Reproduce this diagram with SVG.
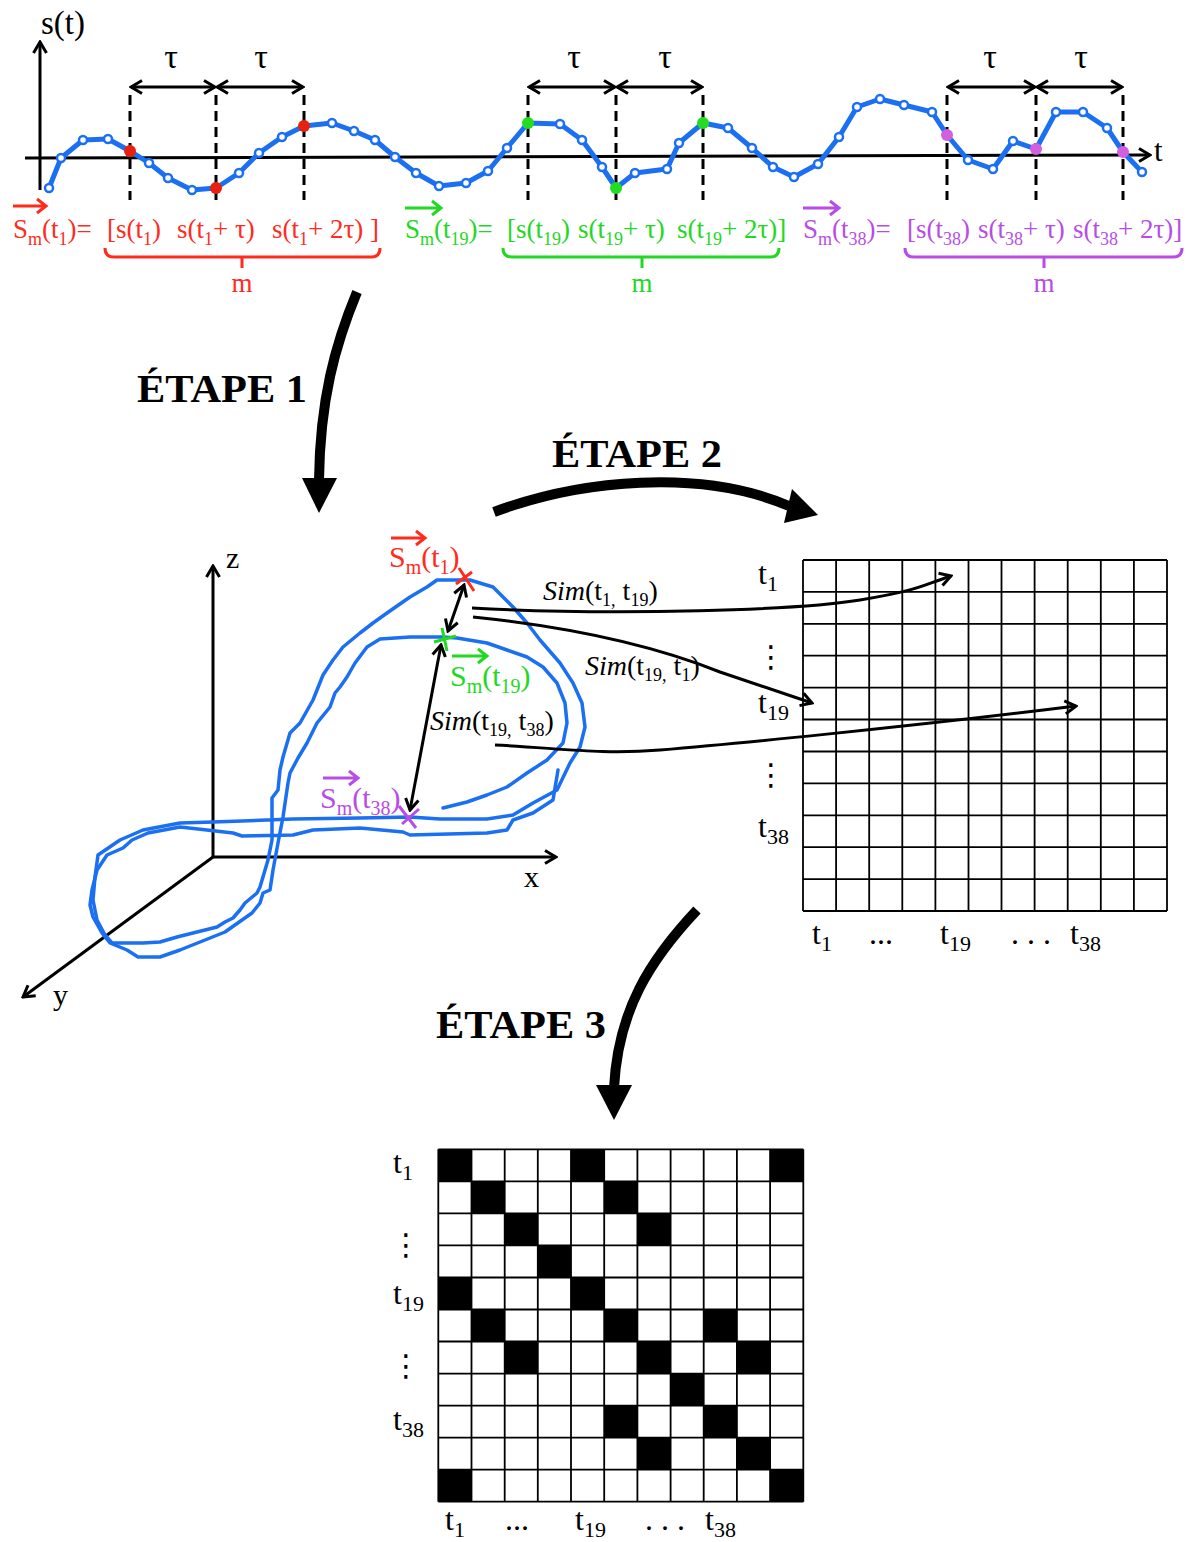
<svg xmlns="http://www.w3.org/2000/svg" width="1191" height="1542" viewBox="0 0 1191 1542">
<defs>
<style>
.f{font-family:"Liberation Serif","Times New Roman",serif;}
.lbl{font-size:27px;}
.sub{font-size:18px;}
.red{fill:#ff2b1c;}
.grn{fill:#22d822;}
.pur{fill:#b84ce6;}
.blk{fill:#000;}
.ax{stroke:#000;stroke-width:3;fill:none;}
.dash{stroke:#000;stroke-width:3;stroke-dasharray:10 6;fill:none;}
.sig{stroke:#1a6ff2;stroke-width:5;fill:none;stroke-linejoin:round;stroke-linecap:round;}
.pt{fill:#fff;stroke:#1a6ff2;stroke-width:2.5;}
.loop{stroke:#1a6ff2;stroke-width:3.5;fill:none;stroke-linejoin:round;stroke-linecap:round;}
.grid{stroke:#000;stroke-width:1.8;fill:none;}
.big{stroke:#000;stroke-width:10;fill:none;}
.etape{font-size:40px;font-weight:bold;}
.gl{font-size:32px;}
.gsub{font-size:22px;}
.sim{font-size:28px;}
.s3{font-size:30px;}
.s3sub{font-size:20px;}
.tau{font-size:34px;}
</style>
<marker id="ah" viewBox="0 0 16 16" refX="14" refY="8" markerWidth="16" markerHeight="16" markerUnits="userSpaceOnUse" orient="auto-start-reverse">
<path d="M3,1.5 L14,8 L3,14.5" fill="none" stroke="#000" stroke-width="3"/>
</marker>
</defs>
<rect width="1191" height="1542" fill="#fff"/>

<g id="signal-plot">
<line class="ax" x1="40" y1="190" x2="40" y2="42" marker-end="url(#ah)"/>
<line class="ax" x1="25" y1="158" x2="1150" y2="155" marker-end="url(#ah)"/>
<text class="f" x="41" y="34" font-size="33">s(t)</text>
<text class="f" x="1154" y="161" font-size="31">t</text>
<g id="dashes">
<line class="dash" x1="130" y1="95" x2="130" y2="200"/>
<line class="dash" x1="216" y1="95" x2="216" y2="200"/>
<line class="dash" x1="304" y1="95" x2="304" y2="200"/>
<line class="dash" x1="528" y1="95" x2="528" y2="200"/>
<line class="dash" x1="616" y1="95" x2="616" y2="200"/>
<line class="dash" x1="703" y1="95" x2="703" y2="200"/>
<line class="dash" x1="947" y1="95" x2="947" y2="200"/>
<line class="dash" x1="1036" y1="95" x2="1036" y2="200"/>
<line class="dash" x1="1123" y1="95" x2="1123" y2="200"/>
</g>
<g id="tau-arrows">
<line class="ax" x1="131" y1="87" x2="215" y2="87" marker-start="url(#ah)" marker-end="url(#ah)"/>
<line class="ax" x1="217" y1="87" x2="303" y2="87" marker-start="url(#ah)" marker-end="url(#ah)"/>
<line class="ax" x1="529" y1="87" x2="615" y2="87" marker-start="url(#ah)" marker-end="url(#ah)"/>
<line class="ax" x1="617" y1="87" x2="702" y2="87" marker-start="url(#ah)" marker-end="url(#ah)"/>
<line class="ax" x1="948" y1="87" x2="1035" y2="87" marker-start="url(#ah)" marker-end="url(#ah)"/>
<line class="ax" x1="1037" y1="87" x2="1122" y2="87" marker-start="url(#ah)" marker-end="url(#ah)"/>
<text class="f tau" text-anchor="middle" x="171" y="68">τ</text>
<text class="f tau" text-anchor="middle" x="261" y="68">τ</text>
<text class="f tau" text-anchor="middle" x="574" y="68">τ</text>
<text class="f tau" text-anchor="middle" x="665" y="68">τ</text>
<text class="f tau" text-anchor="middle" x="990" y="68">τ</text>
<text class="f tau" text-anchor="middle" x="1081" y="68">τ</text>
</g>
<polyline class="sig" points="49,188 61,158 83,140 108,139 130,151 149,163 168,178 192,190 216,188 239,173 259,153 282,137 304,126 332,123 354,131 375,140 395,157 416,173 439,186 466,183 488,171 507,148 528,123 560,124 582,140 602,167 616,188 635,173 667,169 679,143 703,123 728,128 752,148 773,167 794,177 818,164 839,137 857,107 880,99 904,105 932,112 947,135 968,160 993,169 1013,141 1036,149 1056,112 1083,112 1107,128 1123,152 1142,172"/>
<g id="samples">
<circle class="pt" cx="49" cy="188" r="4"/><circle class="pt" cx="61" cy="158" r="4"/><circle class="pt" cx="83" cy="140" r="4"/><circle class="pt" cx="108" cy="139" r="4"/>
<circle class="pt" cx="149" cy="163" r="4"/><circle class="pt" cx="168" cy="178" r="4"/><circle class="pt" cx="192" cy="190" r="4"/>
<circle class="pt" cx="239" cy="173" r="4"/><circle class="pt" cx="259" cy="153" r="4"/><circle class="pt" cx="282" cy="137" r="4"/>
<circle class="pt" cx="332" cy="123" r="4"/><circle class="pt" cx="354" cy="131" r="4"/><circle class="pt" cx="375" cy="140" r="4"/><circle class="pt" cx="395" cy="157" r="4"/>
<circle class="pt" cx="416" cy="173" r="4"/><circle class="pt" cx="439" cy="186" r="4"/><circle class="pt" cx="466" cy="183" r="4"/><circle class="pt" cx="488" cy="171" r="4"/><circle class="pt" cx="507" cy="148" r="4"/>
<circle class="pt" cx="560" cy="124" r="4"/><circle class="pt" cx="582" cy="140" r="4"/><circle class="pt" cx="602" cy="167" r="4"/>
<circle class="pt" cx="635" cy="173" r="4"/><circle class="pt" cx="667" cy="169" r="4"/><circle class="pt" cx="679" cy="143" r="4"/>
<circle class="pt" cx="728" cy="128" r="4"/><circle class="pt" cx="752" cy="148" r="4"/><circle class="pt" cx="773" cy="167" r="4"/><circle class="pt" cx="794" cy="177" r="4"/>
<circle class="pt" cx="818" cy="164" r="4"/><circle class="pt" cx="839" cy="137" r="4"/><circle class="pt" cx="857" cy="107" r="4"/><circle class="pt" cx="880" cy="99" r="4"/><circle class="pt" cx="904" cy="105" r="4"/><circle class="pt" cx="932" cy="112" r="4"/>
<circle class="pt" cx="968" cy="160" r="4"/><circle class="pt" cx="993" cy="169" r="4"/><circle class="pt" cx="1013" cy="141" r="4"/>
<circle class="pt" cx="1056" cy="112" r="4"/><circle class="pt" cx="1083" cy="112" r="4"/><circle class="pt" cx="1107" cy="128" r="4"/><circle class="pt" cx="1142" cy="172" r="4"/>
</g>
<g id="key-points">
<circle cx="130" cy="151" r="6" fill="#e8200f"/><circle cx="216" cy="188" r="6" fill="#e8200f"/><circle cx="304" cy="126" r="6" fill="#e8200f"/>
<circle cx="528" cy="123" r="6" fill="#22dd22"/><circle cx="616" cy="188" r="6" fill="#22dd22"/><circle cx="703" cy="123" r="6" fill="#22dd22"/>
<circle cx="947" cy="135" r="6" fill="#d25fe0"/><circle cx="1036" cy="149" r="6" fill="#d25fe0"/><circle cx="1123" cy="152" r="6" fill="#d25fe0"/>
</g>
</g>

<g id="vector-t1">
<path d="M13,206 H46 M37,199 L46,206 L37,213" stroke="#ff2b1c" stroke-width="3" fill="none"/>
<text class="f lbl red" x="13" y="238">S<tspan class="sub" dy="7">m</tspan><tspan dy="-7">(t</tspan><tspan class="sub" dy="7">1</tspan><tspan dy="-7">)=</tspan></text>
<text class="f lbl red" x="107" y="238">[s(t<tspan class="sub" dy="7">1</tspan><tspan dy="-7">)</tspan></text>
<text class="f lbl red" x="177" y="238">s(t<tspan class="sub" dy="7">1</tspan><tspan dy="-7">+ τ)</tspan></text>
<text class="f lbl red" x="272" y="238">s(t<tspan class="sub" dy="7">1</tspan><tspan dy="-7">+ 2τ) ]</tspan></text>
<path d="M105,248 Q105,257 114,257 H242 V268 M242,257 H371 Q380,257 380,248" stroke="#ff2b1c" stroke-width="3" fill="none"/>
<text class="f lbl red" x="242" y="292" text-anchor="middle">m</text>
</g>

<g id="vector-t19">
<path d="M405,208 H441 M432,201 L441,208 L432,215" stroke="#22d822" stroke-width="3" fill="none"/>
<text class="f lbl grn" x="405" y="238">S<tspan class="sub" dy="7">m</tspan><tspan dy="-7">(t</tspan><tspan class="sub" dy="7">19</tspan><tspan dy="-7">)=</tspan></text>
<text class="f lbl grn" x="507" y="238">[s(t<tspan class="sub" dy="7">19</tspan><tspan dy="-7">)</tspan></text>
<text class="f lbl grn" x="578" y="238">s(t<tspan class="sub" dy="7">19</tspan><tspan dy="-7">+ τ)</tspan></text>
<text class="f lbl grn" x="677" y="238">s(t<tspan class="sub" dy="7">19</tspan><tspan dy="-7">+ 2τ)]</tspan></text>
<path d="M503,248 Q503,257 512,257 H642 V268 M642,257 H770 Q779,257 779,248" stroke="#22d822" stroke-width="3" fill="none"/>
<text class="f lbl grn" x="642" y="292" text-anchor="middle">m</text>
</g>

<g id="vector-t38">
<path d="M803,208 H839 M830,201 L839,208 L830,215" stroke="#b84ce6" stroke-width="3" fill="none"/>
<text class="f lbl pur" x="803" y="238">S<tspan class="sub" dy="7">m</tspan><tspan dy="-7">(t</tspan><tspan class="sub" dy="7">38</tspan><tspan dy="-7">)=</tspan></text>
<text class="f lbl pur" x="907" y="238">[s(t<tspan class="sub" dy="7">38</tspan><tspan dy="-7">)</tspan></text>
<text class="f lbl pur" x="978" y="238">s(t<tspan class="sub" dy="7">38</tspan><tspan dy="-7">+ τ)</tspan></text>
<text class="f lbl pur" x="1073" y="238">s(t<tspan class="sub" dy="7">38</tspan><tspan dy="-7">+ 2τ)]</tspan></text>
<path d="M905,248 Q905,257 914,257 H1044 V268 M1044,257 H1173 Q1182,257 1182,248" stroke="#b84ce6" stroke-width="3" fill="none"/>
<text class="f lbl pur" x="1044" y="292" text-anchor="middle">m</text>
</g>

<g id="etape1">
<path class="big" d="M357,292 C335,345 320,400 319,480"/>
<polygon points="302,478 337,478 319,513" fill="#000"/>
<text class="f etape" x="137" y="402" textLength="170" lengthAdjust="spacingAndGlyphs">ÉTAPE 1</text>
</g>
<g id="etape2">
<path class="big" d="M494,512 C580,480 700,468 789,506"/>
<polygon points="818,515 792,489 784,523" fill="#000"/>
<text class="f etape" x="552" y="467" textLength="170" lengthAdjust="spacingAndGlyphs">ÉTAPE 2</text>
</g>
<g id="etape3">
<path class="big" d="M697,910 C650,960 618,1010 614,1088"/>
<polygon points="596,1085 632,1085 614,1120" fill="#000"/>
<text class="f etape" x="436" y="1038" textLength="170" lengthAdjust="spacingAndGlyphs">ÉTAPE 3</text>
</g>

<g id="phase-space">
<line class="ax" x1="213" y1="857" x2="213" y2="566" marker-end="url(#ah)" stroke-width="3.5"/>
<line class="ax" x1="213" y1="857" x2="556" y2="857" marker-end="url(#ah)" stroke-width="3.5"/>
<line class="ax" x1="213" y1="857" x2="23" y2="997" marker-end="url(#ah)" stroke-width="3.5"/>
<text class="f" font-size="30" x="226" y="568">z</text>
<text class="f" font-size="30" x="524" y="887">x</text>
<text class="f" font-size="30" x="53" y="1005">y</text>
<path class="loop" d="M558,770 L553,800 L533,813 L513,820 L507,830 L487,833 L410,835 L403,832 L360,828 L313,830 L293,835 L242,836 L233,833 L207,830 L180,827 L148,833 L132,840 L123,848 L107,855 L97,870 L92,890 L90,905 L93,917 L102,933 L110,943 L127,950 L138,957 L160,957 L180,950 L210,938 L225,932 L242,920 L252,913 L260,903 L263,893 L270,890 L273,870 L278,843 L283,817 L288,783 L290,773 L298,758 L307,743 L317,723 L330,707 L335,693 L340,687 L347,677 L355,663 L367,647 L380,639 L410,637 L443,637 L457,638 L487,643 L507,650 L527,657 L543,667 L557,683 L565,703 L567,723 L563,743 L547,760 L527,773 L507,787 L487,795 L467,802 L443,808"/>
<path class="loop" d="M112,943 L143,943 L160,942 L177,937 L205,930 L217,927 L225,922 L233,918 L240,910 L245,903 L257,893 L260,887 L268,860 L272,840 L272,798 L278,790 L280,770 L283,757 L290,733 L300,723 L313,700 L323,675 L333,660 L343,647 L360,633 L373,623 L387,613 L410,597 L427,587 L437,580 L470,580 L493,587 L513,607 L527,623 L540,640 L560,663 L573,683 L582,703 L585,727 L580,747 L570,763 L557,790 L533,803 L513,815 L487,819 L440,819 L410,817 L360,818 L293,819 L213,822 L180,823 L143,830 L120,840 L98,855 L95,877 L93,900 L97,920 L105,935 Z"/>
<g id="marks">
<path d="M459,568 L474,591 M456,584 L472,572" stroke="#ff2b1c" stroke-width="3" fill="none"/>
<path d="M434,642 L456,636 M442,628 L447,651" stroke="#22d822" stroke-width="3" fill="none"/>
<path d="M399,806 L416,828 M402,824 L419,809" stroke="#b84ce6" stroke-width="3" fill="none"/>
</g>
<line class="ax" x1="464" y1="585" x2="448" y2="631" marker-start="url(#ah)" marker-end="url(#ah)" stroke-width="2.5"/>
<line class="ax" x1="441" y1="645" x2="410" y2="810" marker-start="url(#ah)" marker-end="url(#ah)" stroke-width="2.5"/>
</g>

<g id="label-sm-t1">
<path d="M391,538 H425 M416,531 L425,538 L416,545" stroke="#ff2b1c" stroke-width="3" fill="none"/>
<text class="f s3 red" x="389" y="567">S<tspan class="s3sub" dy="7">m</tspan><tspan dy="-7">(t</tspan><tspan class="s3sub" dy="7">1</tspan><tspan dy="-7">)</tspan></text>
</g>
<g id="label-sm-t19">
<path d="M452,656 H487 M478,649 L487,656 L478,663" stroke="#22d822" stroke-width="3" fill="none"/>
<text class="f s3 grn" x="450" y="686">S<tspan class="s3sub" dy="7">m</tspan><tspan dy="-7">(t</tspan><tspan class="s3sub" dy="7">19</tspan><tspan dy="-7">)</tspan></text>
</g>
<g id="label-sm-t38">
<path d="M323,778 H358 M349,771 L358,778 L349,785" stroke="#b84ce6" stroke-width="3" fill="none"/>
<text class="f s3 pur" x="320" y="808">S<tspan class="s3sub" dy="7">m</tspan><tspan dy="-7">(t</tspan><tspan class="s3sub" dy="7">38</tspan><tspan dy="-7">)</tspan></text>
</g>

<g id="sim-labels">
<text class="f sim" x="543" y="600"><tspan font-style="italic">Sim</tspan>(t<tspan class="sub" dy="6">1,</tspan><tspan dy="-6"> t</tspan><tspan class="sub" dy="6">19</tspan><tspan dy="-6">)</tspan></text>
<text class="f sim" x="585" y="675"><tspan font-style="italic">Sim</tspan>(t<tspan class="sub" dy="6">19,</tspan><tspan dy="-6"> t</tspan><tspan class="sub" dy="6">1</tspan><tspan dy="-6">)</tspan></text>
<text class="f sim" x="430" y="730"><tspan font-style="italic">Sim</tspan>(t<tspan class="sub" dy="6">19,</tspan><tspan dy="-6"> t</tspan><tspan class="sub" dy="6">38</tspan><tspan dy="-6">)</tspan></text>
</g>

<g id="connectors">
<path class="ax" d="M472,608 C620,616 800,610 860,600 S920,586 951,576" marker-end="url(#ah)"/>
<path class="ax" d="M473,617 C580,628 660,648 720,672 L812,703" marker-end="url(#ah)"/>
<path class="ax" d="M495,745 C560,748 600,755 660,750 S900,728 1076,706" marker-end="url(#ah)"/>
</g>

<g id="similarity-matrix">
<path class="grid" d="M803,560 H1167 M803,591.9 H1167 M803,623.8 H1167 M803,655.7 H1167 M803,687.6 H1167 M803,719.5 H1167 M803,751.5 H1167 M803,783.4 H1167 M803,815.3 H1167 M803,847.2 H1167 M803,879.1 H1167 M803,911 H1167 M803,560 V911 M836.1,560 V911 M869.2,560 V911 M902.3,560 V911 M935.4,560 V911 M968.5,560 V911 M1001.5,560 V911 M1034.6,560 V911 M1067.7,560 V911 M1100.8,560 V911 M1133.9,560 V911 M1167,560 V911"/>
<text class="f gl" x="758" y="584">t<tspan class="gsub" dy="7">1</tspan></text>
<text font-family="DejaVu Sans, sans-serif" font-size="30" x="771" y="667" text-anchor="middle">⋮</text>
<text class="f gl" x="758" y="713">t<tspan class="gsub" dy="7">19</tspan></text>
<text font-family="DejaVu Sans, sans-serif" font-size="30" x="771" y="785" text-anchor="middle">⋮</text>
<text class="f gl" x="758" y="837">t<tspan class="gsub" dy="7">38</tspan></text>
<text class="f gl" x="812" y="944">t<tspan class="gsub" dy="7">1</tspan></text>
<text class="f gl" x="869" y="944">...</text>
<text class="f gl" x="940" y="944">t<tspan class="gsub" dy="7">19</tspan></text>
<text class="f gl" x="1011" y="944">. . .</text>
<text class="f gl" x="1070" y="944">t<tspan class="gsub" dy="7">38</tspan></text>
</g>

<g id="recurrence-matrix">
<g fill="#000">
<rect x="438.3" y="1149.3" width="33.2" height="32"/><rect x="571" y="1149.3" width="33.2" height="32"/><rect x="770.1" y="1149.3" width="33.2" height="32"/>
<rect x="471.5" y="1181.3" width="33.2" height="32.1"/><rect x="604.2" y="1181.3" width="33.2" height="32.1"/>
<rect x="504.7" y="1213.4" width="33.1" height="32"/><rect x="637.4" y="1213.4" width="33.2" height="32"/>
<rect x="537.8" y="1245.4" width="33.2" height="32.1"/>
<rect x="438.3" y="1277.5" width="33.2" height="32"/><rect x="571" y="1277.5" width="33.2" height="32"/>
<rect x="471.5" y="1309.5" width="33.2" height="32"/><rect x="604.2" y="1309.5" width="33.2" height="32"/><rect x="703.7" y="1309.5" width="33.2" height="32"/>
<rect x="504.7" y="1341.5" width="33.1" height="32.1"/><rect x="637.4" y="1341.5" width="33.2" height="32.1"/><rect x="736.9" y="1341.5" width="33.2" height="32.1"/>
<rect x="670.6" y="1373.6" width="33.1" height="32"/>
<rect x="604.2" y="1405.6" width="33.2" height="32.1"/><rect x="703.7" y="1405.6" width="33.2" height="32.1"/>
<rect x="637.4" y="1437.7" width="33.2" height="32"/><rect x="736.9" y="1437.7" width="33.2" height="32"/>
<rect x="438.3" y="1469.7" width="33.2" height="32"/><rect x="770.1" y="1469.7" width="33.2" height="32"/>
</g>
<path class="grid" d="M438.3,1149.3 H803.3 M438.3,1181.3 H803.3 M438.3,1213.4 H803.3 M438.3,1245.4 H803.3 M438.3,1277.5 H803.3 M438.3,1309.5 H803.3 M438.3,1341.5 H803.3 M438.3,1373.6 H803.3 M438.3,1405.6 H803.3 M438.3,1437.7 H803.3 M438.3,1469.7 H803.3 M438.3,1501.7 H803.3 M438.3,1149.3 V1501.7 M471.5,1149.3 V1501.7 M504.7,1149.3 V1501.7 M537.8,1149.3 V1501.7 M571,1149.3 V1501.7 M604.2,1149.3 V1501.7 M637.4,1149.3 V1501.7 M670.6,1149.3 V1501.7 M703.7,1149.3 V1501.7 M736.9,1149.3 V1501.7 M770.1,1149.3 V1501.7 M803.3,1149.3 V1501.7"/>
<text class="f gl" x="393" y="1173">t<tspan class="gsub" dy="7">1</tspan></text>
<text font-family="DejaVu Sans, sans-serif" font-size="30" x="406" y="1255" text-anchor="middle">⋮</text>
<text class="f gl" x="393" y="1304">t<tspan class="gsub" dy="7">19</tspan></text>
<text font-family="DejaVu Sans, sans-serif" font-size="30" x="406" y="1376" text-anchor="middle">⋮</text>
<text class="f gl" x="393" y="1430">t<tspan class="gsub" dy="7">38</tspan></text>
<text class="f gl" x="445" y="1530">t<tspan class="gsub" dy="7">1</tspan></text>
<text class="f gl" x="505" y="1530">...</text>
<text class="f gl" x="575" y="1530">t<tspan class="gsub" dy="7">19</tspan></text>
<text class="f gl" x="645" y="1530">. . .</text>
<text class="f gl" x="705" y="1530">t<tspan class="gsub" dy="7">38</tspan></text>
</g>
</svg>
